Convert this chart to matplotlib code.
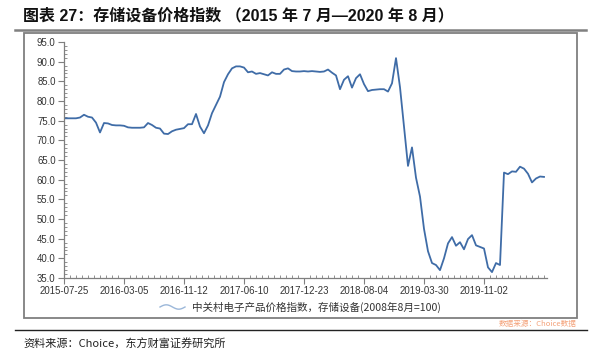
import numpy as np
import matplotlib
matplotlib.use("Agg")
import matplotlib.pyplot as plt
from matplotlib.lines import Line2D
from matplotlib.patches import Rectangle
from matplotlib.ticker import MultipleLocator, FixedLocator, FormatStrFormatter

plt.rcParams['font.family'] = ['Liberation Sans', 'Noto Sans CJK SC', 'DejaVu Sans']

title = "图表 27：存储设备价格指数 （2015 年 7 月—2020 年 8 月）"
series_name = "中关村电子产品价格指数，存储设备(2008年8月=100)"
source_note = "资料来源：Choice，东方财富证券研究所"
data_note = "数据来源：Choice数据"

tick_labels = ["2015-07-25", "2016-03-05", "2016-11-12", "2017-06-10",
               "2017-12-23", "2018-08-04", "2019-03-30", "2019-11-02"]
points_per_label = 15

values = [
    75.6, 75.6, 75.6, 75.6, 75.8, 76.5, 76.0, 75.8, 74.5, 72.0,
    74.4, 74.3, 73.9, 73.8, 73.8, 73.7, 73.3, 73.2, 73.2, 73.2,
    73.3, 74.4, 73.9, 73.2, 73.0, 71.7, 71.6, 72.3, 72.7, 72.9,
    73.1, 74.1, 74.1, 76.7, 73.5, 71.8, 73.8, 76.9, 79.0, 81.1,
    84.8, 86.8, 88.3, 88.8, 88.8, 88.5, 87.3, 87.5, 86.9, 87.1,
    86.8, 86.5, 87.3, 86.9, 86.9, 88.0, 88.3, 87.6, 87.5, 87.5,
    87.6, 87.5, 87.6, 87.5, 87.4, 87.5, 88.0, 87.2, 86.5, 83.0,
    85.4, 86.3, 83.4, 85.8, 86.8, 84.3, 82.5, 82.8, 82.9, 83.0,
    83.0, 82.4, 84.5, 90.9, 83.5, 73.5, 63.5, 68.2, 60.5, 55.7,
    47.5, 41.8, 38.8, 38.3, 37.0, 40.0, 43.8, 45.4, 43.2, 44.1,
    42.3, 44.9, 45.9, 43.3, 42.9, 42.5, 37.7, 36.5, 38.8, 38.3,
    61.8, 61.4, 62.1, 62.0, 63.3, 62.8, 61.5, 59.3, 60.3, 60.8,
    60.7,
]

W, H = 600, 363
fig = plt.figure(figsize=(W / 100, H / 100), dpi=100)

def fx(px):
    return px / W

def fy(py):
    return 1 - py / H

# outer chart frame
fig.add_artist(Rectangle((fx(24), fy(318)), fx(577) - fx(24), fy(33) - fy(318),
                         transform=fig.transFigure, fill=False,
                         edgecolor='#7f7f7f', linewidth=1.3))
# title underline
fig.add_artist(Line2D([fx(15), fx(586)], [fy(30), fy(30)], transform=fig.transFigure,
                      color='#808080', linewidth=1.8))
# bottom rule
fig.add_artist(Line2D([fx(15), fx(587)], [fy(330), fy(330)], transform=fig.transFigure,
                      color='#222222', linewidth=1.0))

fig.text(fx(23), fy(16), title, fontsize=11.5, fontweight='bold', va='center', ha='left',
         family=['Liberation Sans', 'Noto Sans CJK SC'], color='#111111')
fig.text(fx(23), fy(344), source_note, fontsize=8, va='center', ha='left',
         family=['Noto Sans CJK SC'], color='#222222')
fig.text(fx(577), fy(324), data_note, fontsize=5.5, va='center', ha='right',
         family=['Noto Sans CJK SC'], color='#f4a27a')

ax = fig.add_axes([fx(64), fy(278), fx(547) - fx(64), fy(42) - fy(278)])
x = np.arange(len(values))
ax.plot(x, values, color='#3f6ca7', linewidth=1.3)

ax.set_xlim(0, 120.75)
ax.set_ylim(35, 95)
for s in ['top', 'right']:
    ax.spines[s].set_visible(False)
for s in ['left', 'bottom']:
    ax.spines[s].set_color('#7f7f7f')
    ax.spines[s].set_linewidth(0.9)

ax.yaxis.set_major_locator(MultipleLocator(5))
ax.yaxis.set_minor_locator(MultipleLocator(1))
ax.yaxis.set_major_formatter(FormatStrFormatter('%.1f'))
ax.xaxis.set_major_locator(FixedLocator([i * points_per_label for i in range(len(tick_labels))]))
ax.set_xticklabels(tick_labels)
ax.xaxis.set_minor_locator(MultipleLocator(1.5))

ax.tick_params(axis='both', which='major', direction='out', length=4, width=0.8,
               color='#7f7f7f', labelsize=6.9, labelcolor='#333333', pad=2)
ax.tick_params(axis='both', which='minor', direction='in', length=2, width=0.6,
               color='#7f7f7f')

# legend
lx = np.linspace(fx(160), fx(185), 40)
ly = fy(307) + 0.006 * np.sin(np.linspace(0, 2 * np.pi, 40))
fig.add_artist(Line2D(lx, ly, transform=fig.transFigure, color='#9bb7d9', linewidth=1.0))
fig.text(fx(192), fy(307), series_name, fontsize=7.6, va='center', ha='left',
         family=['Noto Sans CJK SC', 'Liberation Sans'], color='#333333')

fig.savefig("out.png", dpi=100)
